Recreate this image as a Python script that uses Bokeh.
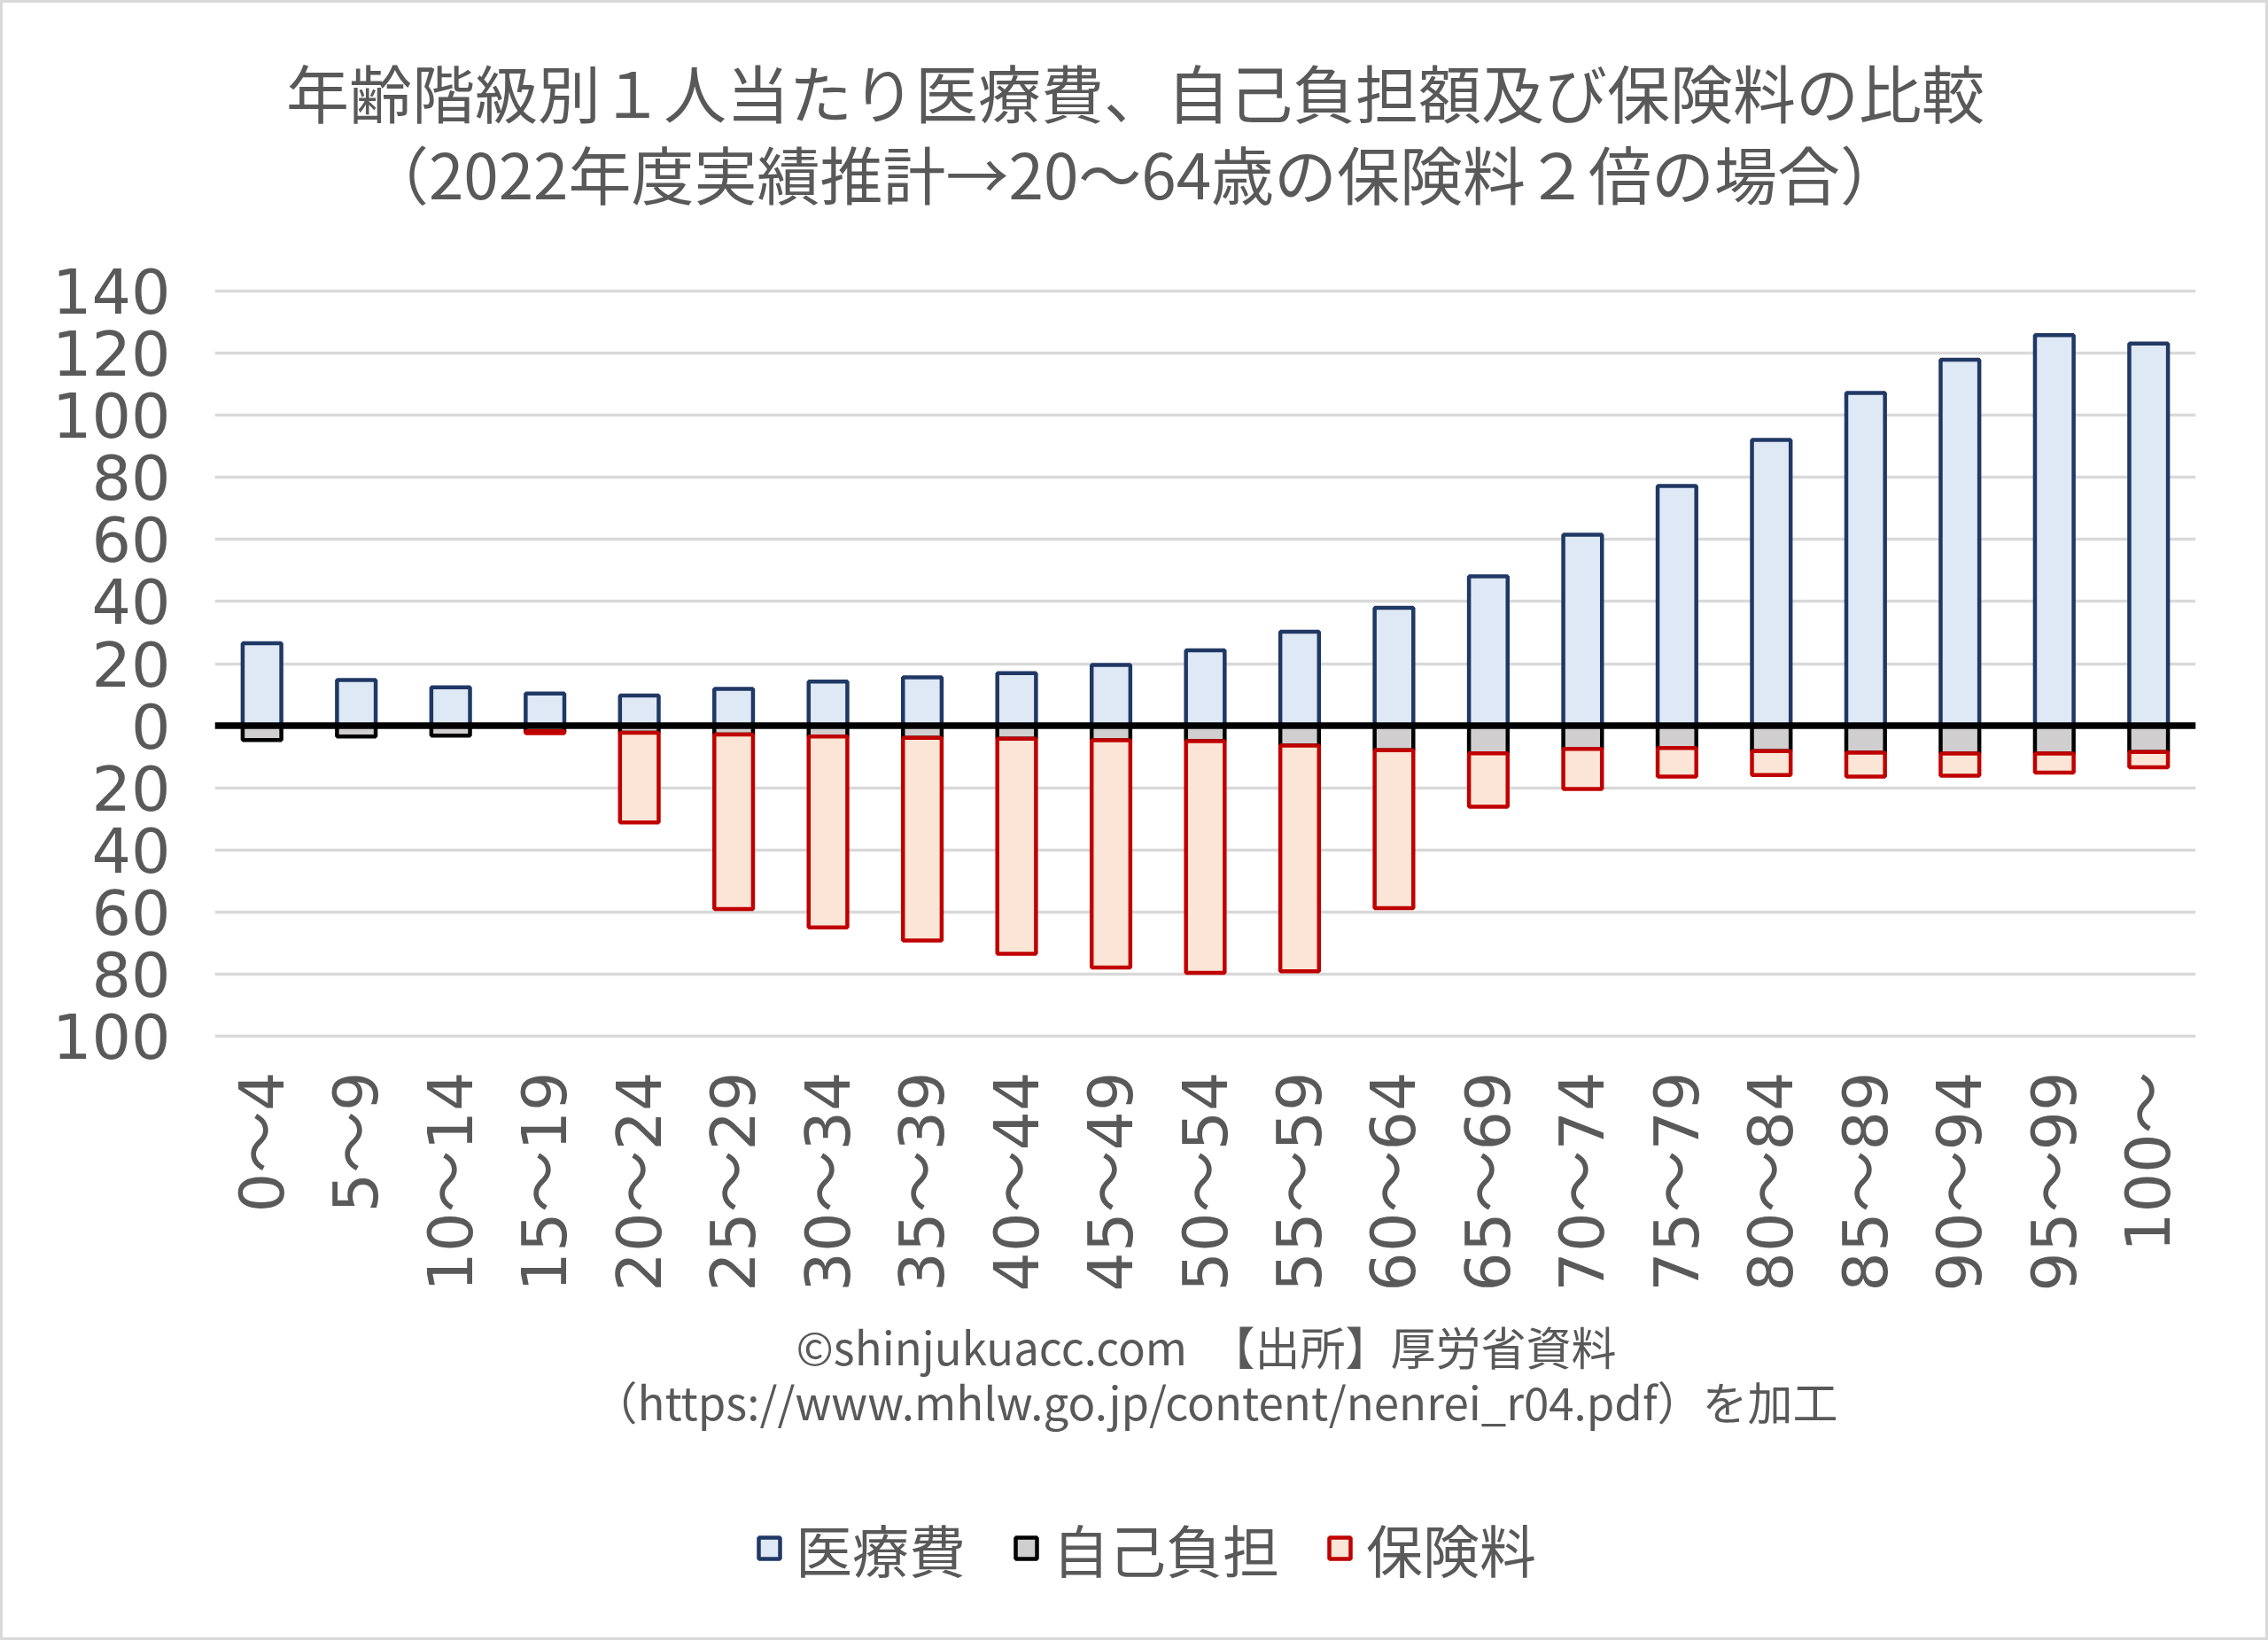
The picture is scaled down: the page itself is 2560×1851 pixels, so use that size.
import math
from bokeh.plotting import figure
from bokeh.layouts import column
from bokeh.models import (FactorRange, Range1d, FixedTicker, CustomJSTickFormatter,
                          Span, Label, Legend, LegendItem, ColumnDataSource)
from bokeh.embed import file_html
from bokeh.resources import INLINE

# ---------------- data ----------------
categories = ["0～4", "5～9", "10～14", "15～19", "20～24", "25～29", "30～34",
              "35～39", "40～44", "45～49", "50～54", "55～59", "60～64", "65～69",
              "70～74", "75～79", "80～84", "85～89", "90～94", "95～99", "100～"]
medical = [26.6, 14.7, 12.4, 10.4, 9.7, 11.9, 14.2, 15.6, 16.9, 19.6, 24.3,
           30.3, 38.0, 48.1, 61.5, 77.2, 92.1, 107.2, 117.9, 125.8, 123.1]
self_pay = [4.6, 3.5, 3.2, 1.8, 2.3, 2.8, 3.5, 3.9, 4.2, 4.7, 5.0,
            6.4, 7.9, 8.9, 7.5, 7.2, 8.2, 8.7, 9.0, 9.0, 8.5]
premium = [float("nan"), float("nan"), float("nan"), 0.6, 28.9, 56.3, 61.5, 65.3, 69.3, 73.2, 74.6,
           72.7, 50.9, 17.2, 12.9, 9.2, 7.7, 7.7, 7.1, 6.1, 4.9]
y_ticks = [-100, -80, -60, -40, -20, 0, 20, 40, 60, 80, 100, 120, 140]
legend_labels = ["医療費", "自己負担", "保険料"]
title_lines = ["年齢階級別１人当たり医療費、自己負担額及び保険料の比較",
               "（2022年度実績推計→20～64歳の保険料２倍の場合）"]
footer_lines = ["©shinjukuacc.com　【出所】厚労省資料",
                "（https://www.mhlw.go.jp/content/nenrei_r04.pdf）を加工"]

# ---------------- styles / layout ----------------
FONT = "Noto Sans CJK JP"
TICK_FONT = "DejaVu Sans, Noto Sans CJK JP"
TEXT = "#595959"
PAD = 3                      # grey frame around the whole chart
W = 2560 - 2 * PAD
TOP_Y0, MAIN_Y0, BOT_Y0, END_Y = PAD, 270, 1480, 1851 - PAD   # page y of strips
TOP_H, MAIN_H, BOT_H = MAIN_Y0 - TOP_Y0, BOT_Y0 - MAIN_Y0, END_Y - BOT_Y0
FL, FR = 242 - PAD, 2478 - PAD       # plot frame left/right (canvas x)
FT, FB = 326, 1171                   # plot frame top/bottom (page y)


def strip(h):
    f = figure(width=W, height=h, x_range=Range1d(FL, FR), y_range=Range1d(h, 0),
               x_axis_type=None, y_axis_type=None, output_backend="svg",
               toolbar_location=None, min_border_left=FL, min_border_right=W - FR,
               min_border_top=0, min_border_bottom=0)
    f.outline_line_color = None
    f.background_fill_color = None
    f.border_fill_color = "white"
    return f


# ---- title strip ----
top = strip(TOP_H)
for txt, (xc, yc) in zip(title_lines, [(1281, 101), (1280, 193)]):
    top.add_layout(Label(x=xc - PAD, y=yc - TOP_Y0, text=txt, text_align="center",
                         text_baseline="middle", text_font=FONT, text_font_size="71px",
                         text_color=TEXT))

# ---- main chart ----
src = ColumnDataSource(dict(
    cat=categories,
    medical=medical,
    neg_self=[-v for v in self_pay],
    neg_prem=[-v for v in premium],
))

p = figure(width=W, height=MAIN_H,
           x_range=FactorRange(factors=categories, range_padding=0),
           y_range=Range1d(-100.6, 140.6),
           output_backend="svg", toolbar_location=None,
           min_border_left=FL, min_border_right=W - FR,
           min_border_top=FT - MAIN_Y0, min_border_bottom=BOT_Y0 - FB)
p.outline_line_color = None
p.background_fill_color = None
p.border_fill_color = "white"

BW = 0.41
FILLS = ["#dee9f5", "#d0cece", "#fbe5d6"]
LINES = ["#203864", "#000000", "#c00000"]
LW = 4.5
r_med = p.vbar(x="cat", top="medical", bottom=0, width=BW, source=src,
               fill_color=FILLS[0], line_color=LINES[0], line_width=LW)
r_neg = p.vbar_stack(["neg_self", "neg_prem"], x="cat", width=BW, source=src,
                     fill_color=FILLS[1:], line_color=LINES[1:], line_width=LW)

p.add_layout(Span(location=0, dimension="width", line_color="black", line_width=7.5))

p.yaxis.ticker = FixedTicker(ticks=y_ticks)
p.yaxis.formatter = CustomJSTickFormatter(code="return String(Math.abs(tick));")
for ax in (p.xaxis[0], p.yaxis[0]):
    ax.axis_line_color = None
    ax.major_tick_line_color = None
    ax.minor_tick_line_color = None
    ax.major_tick_out = 0
    ax.major_label_text_font = TICK_FONT
    ax.major_label_text_font_size = "70px"
    ax.major_label_text_color = TEXT
p.yaxis.major_label_standoff = 50
p.xaxis.major_label_standoff = 38
p.xaxis.major_label_orientation = math.pi / 2

p.xgrid.grid_line_color = None
p.ygrid.grid_line_color = "#d9d9d9"
p.ygrid.grid_line_width = 3.5

# ---- footer + legend strip ----
bot = strip(BOT_H)
for txt, (xc, yc) in zip(footer_lines, [(1361, 1518), (1371, 1580)]):
    bot.add_layout(Label(x=xc - PAD, y=yc - BOT_Y0, text=txt, text_align="center",
                         text_baseline="middle", text_font=FONT, text_font_size="51px",
                         text_color=TEXT))

# legend swatches: hidden copies of the chart's bar styles (same source)
swatches = [bot.vbar(x="cat", top="medical", width=BW, source=src, visible=False,
                     fill_color=fc, line_color=lc, line_width=LW)
            for fc, lc in zip(FILLS, LINES)]
legend = Legend(items=[LegendItem(label=lab, renderers=[r]) for lab, r in zip(legend_labels, swatches)],
                orientation="horizontal", location=(853 - PAD - FL, 55),
                label_text_font=FONT, label_text_font_size="64px", label_text_color=TEXT,
                glyph_width=30, glyph_height=30, label_standoff=15, spacing=53,
                padding=0, margin=0, border_line_color=None, background_fill_alpha=0,
                label_height=72)
bot.add_layout(legend)

layout = column(top, p, bot, spacing=0)
layout.styles = {"background-color": "white", "padding": f"{PAD}px",
                 "outline": f"{PAD}px solid #d9d9d9", "outline-offset": f"-{PAD}px"}

open("out.html", "w").write(file_html(layout, INLINE))
